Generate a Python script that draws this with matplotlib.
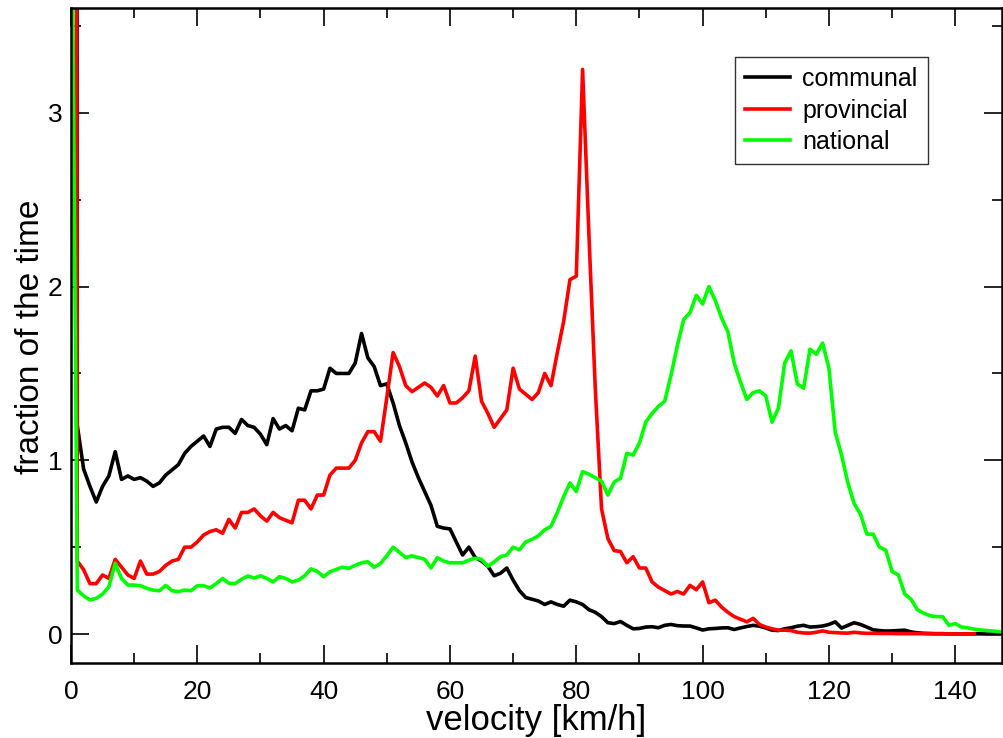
import numpy as np
from matplotlib import pyplot as plt
from matplotlib.ticker import MultipleLocator

# fraction of time spent at each velocity (1 km/h bins)
communal = [
    60.0, 1.20, 0.95, 0.85, 0.76, 0.85, 0.91, 1.05, 0.89, 0.91,
    0.89, 0.90, 0.88, 0.85, 0.87, 0.915, 0.945, 0.975, 1.04, 1.08,
    1.11, 1.14, 1.08, 1.18, 1.19, 1.19, 1.155, 1.235, 1.20, 1.19,
    1.15, 1.09, 1.24, 1.18, 1.20, 1.17, 1.30, 1.29, 1.40, 1.40,
    1.41, 1.53, 1.50, 1.50, 1.50, 1.56, 1.73, 1.59, 1.54, 1.43,
    1.44, 1.33, 1.20, 1.10, 0.99, 0.90, 0.82, 0.74, 0.62, 0.61,
    0.605, 0.53, 0.455, 0.50, 0.44, 0.42, 0.39, 0.335, 0.35, 0.38,
    0.31, 0.25, 0.21, 0.20, 0.19, 0.17, 0.185, 0.17, 0.16, 0.195,
    0.185, 0.17, 0.14, 0.125, 0.10, 0.065, 0.06, 0.072, 0.05, 0.03,
    0.032, 0.04, 0.042, 0.036, 0.05, 0.055, 0.048, 0.046, 0.046, 0.035,
    0.023, 0.03, 0.032, 0.035, 0.036, 0.026, 0.035, 0.043, 0.05, 0.045,
    0.035, 0.022, 0.02, 0.03, 0.036, 0.045, 0.05, 0.04, 0.042, 0.046,
    0.055, 0.07, 0.034, 0.05, 0.065, 0.055, 0.04, 0.024, 0.02, 0.017,
    0.018, 0.02, 0.022, 0.012, 0.007, 0.004, 0.003, 0.002, 0.002, 0.001,
    0.001, 0.001, 0.001, 0.001, 0.001, 0.0, 0.0, 0.0,
]
provincial = [
    30.0, 0.42, 0.37, 0.29, 0.29, 0.34, 0.32, 0.43, 0.385, 0.34,
    0.32, 0.42, 0.345, 0.345, 0.36, 0.395, 0.42, 0.43, 0.50, 0.50,
    0.53, 0.57, 0.59, 0.60, 0.58, 0.66, 0.61, 0.70, 0.70, 0.72,
    0.68, 0.65, 0.70, 0.67, 0.655, 0.64, 0.77, 0.77, 0.72, 0.80,
    0.80, 0.915, 0.955, 0.955, 0.955, 1.00, 1.10, 1.165, 1.165, 1.11,
    1.36, 1.62, 1.54, 1.43, 1.395, 1.42, 1.445, 1.42, 1.37, 1.43,
    1.33, 1.33, 1.36, 1.40, 1.60, 1.34, 1.27, 1.19, 1.24, 1.29,
    1.53, 1.41, 1.38, 1.35, 1.39, 1.50, 1.43, 1.62, 1.80, 2.04,
    2.06, 3.25, 2.30, 1.42, 0.72, 0.55, 0.48, 0.475, 0.41, 0.445,
    0.38, 0.38, 0.30, 0.27, 0.25, 0.23, 0.245, 0.23, 0.28, 0.255,
    0.30, 0.18, 0.195, 0.155, 0.125, 0.10, 0.085, 0.07, 0.09, 0.055,
    0.04, 0.03, 0.022, 0.022, 0.02, 0.01, 0.006, 0.005, 0.01, 0.018,
    0.01, 0.008, 0.006, 0.005, 0.01, 0.006, 0.004, 0.004, 0.003, 0.003,
    0.003, 0.002, 0.002, 0.002, 0.002, 0.002, 0.001, 0.001, 0.001, 0.001,
    0.001, 0.001, 0.001, 0.001,
]
national = [
    5.0, 0.253, 0.22, 0.196, 0.205, 0.23, 0.272, 0.407, 0.32, 0.282,
    0.282, 0.278, 0.263, 0.253, 0.249, 0.28, 0.249, 0.244, 0.253, 0.249,
    0.278, 0.278, 0.265, 0.29, 0.32, 0.292, 0.29, 0.315, 0.334, 0.322,
    0.335, 0.32, 0.30, 0.33, 0.32, 0.30, 0.31, 0.335, 0.375, 0.36,
    0.33, 0.358, 0.372, 0.385, 0.378, 0.395, 0.41, 0.416, 0.384, 0.406,
    0.45, 0.50, 0.47, 0.44, 0.45, 0.44, 0.43, 0.38, 0.44, 0.42,
    0.41, 0.41, 0.41, 0.425, 0.436, 0.43, 0.39, 0.415, 0.445, 0.455,
    0.50, 0.485, 0.53, 0.545, 0.565, 0.60, 0.62, 0.70, 0.79, 0.87,
    0.82, 0.935, 0.92, 0.90, 0.88, 0.80, 0.875, 0.896, 1.04, 1.03,
    1.10, 1.22, 1.27, 1.31, 1.34, 1.49, 1.66, 1.81, 1.85, 1.95,
    1.90, 2.00, 1.92, 1.82, 1.74, 1.56, 1.45, 1.35, 1.39, 1.40,
    1.37, 1.22, 1.30, 1.56, 1.63, 1.44, 1.415, 1.64, 1.61, 1.675,
    1.53, 1.16, 1.03, 0.87, 0.75, 0.69, 0.575, 0.575, 0.50, 0.483,
    0.36, 0.34, 0.23, 0.20, 0.14, 0.12, 0.105, 0.10, 0.10, 0.05,
    0.06, 0.04, 0.035, 0.028, 0.023, 0.02, 0.017, 0.013,
]

series = [
    ("communal", communal, "black"),
    ("provincial", provincial, "#ff0000"),
    ("national", national, "#00ff00"),
]

narrow = ["Liberation Sans Narrow", "Liberation Sans", "DejaVu Sans"]
regular = ["Liberation Sans", "DejaVu Sans"]

fig = plt.figure(figsize=(10.04, 7.38), dpi=100)
ax = fig.add_axes([0.0707, 0.1016, 0.9273, 0.8876])

for name, values, color in series:
    v = np.arange(len(values))
    ax.plot(v, values, color=color, lw=2.6, label=name)

ax.set_xlim(0, 147.4)
ax.set_ylim(-0.167, 3.604)

ax.xaxis.set_major_locator(MultipleLocator(20))
ax.xaxis.set_minor_locator(MultipleLocator(10))
ax.yaxis.set_major_locator(MultipleLocator(1))
ax.yaxis.set_minor_locator(MultipleLocator(0.5))
ax.tick_params(which="both", direction="in", top=True, right=True, width=1.2)
ax.tick_params(which="major", length=13)
ax.tick_params(which="minor", length=7)
ax.tick_params(axis="x", which="major", pad=12)
ax.tick_params(axis="y", which="major", pad=6)
for lbl in ax.get_xticklabels() + ax.get_yticklabels():
    lbl.set_family(narrow)
    lbl.set_fontsize(19)
for sp in ax.spines.values():
    sp.set_linewidth(1.8)

ax.set_xlabel("velocity [km/h]", family=narrow, fontsize=25, va="center")
ax.xaxis.set_label_coords(0.5, -0.087)
ax.set_ylabel("fraction of the time", family=narrow, fontsize=24, va="center")
ax.yaxis.set_label_coords(-0.044, 0.498)

leg = ax.legend(loc="upper left", bbox_to_anchor=(0.713, 0.925),
                prop={"family": regular, "size": 18}, frameon=True,
                fancybox=False, edgecolor="black", handlelength=1.8,
                handletextpad=0.5, labelspacing=0.3, borderpad=0.4,
                borderaxespad=0)
leg.get_frame().set_linewidth(1.0)

fig.savefig("out.png", dpi=100)
